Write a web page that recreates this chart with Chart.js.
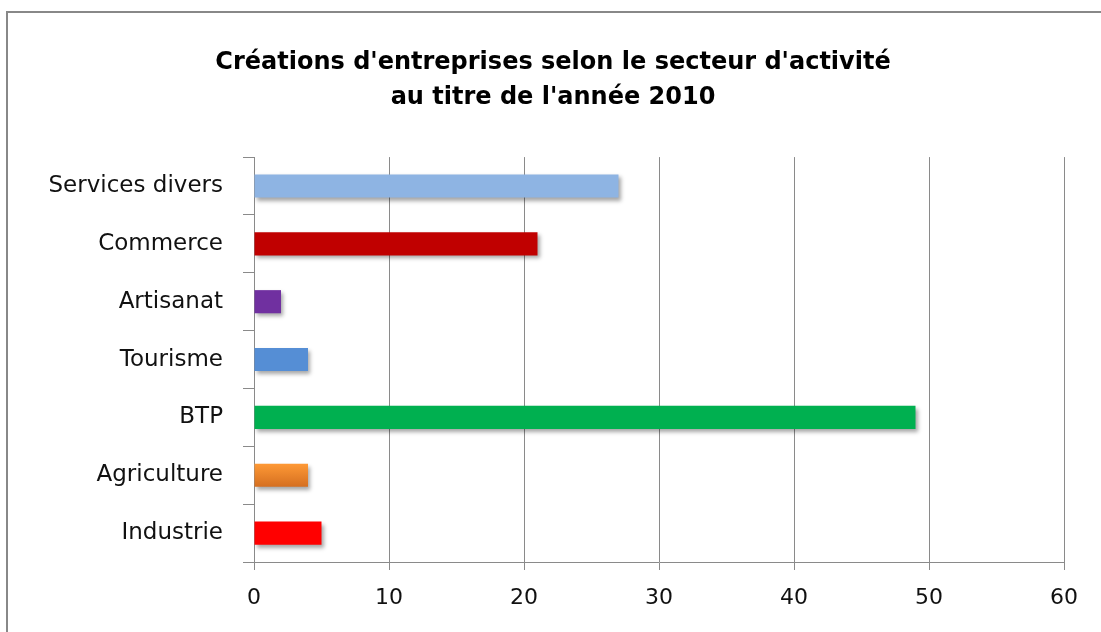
<!DOCTYPE html>
<html>
<head>
<meta charset="utf-8">
<script src="https://cdn.jsdelivr.net/npm/chart.js@4"></script>
<style>
  html, body { margin: 0; padding: 0; background: #fff; overflow: hidden; }
  #wrap { position: relative; width: 1101px; height: 632px; }
  #frame { position: absolute; left: 6px; top: 11px; width: 1120px; height: 650px;
           border: 2px solid #888; pointer-events: none; }
</style>
</head>
<body>
<div id="wrap">
  <canvas id="myChart" width="1101" height="632"></canvas>
  <div id="frame"></div>
</div>
<script>
// data
var categories = ["Services divers", "Commerce", "Artisanat", "Tourisme", "BTP", "Agriculture", "Industrie"];
var values = [27, 21, 2, 4, 49, 4, 5];
var xTicks = [0, 10, 20, 30, 40, 50, 60];
var titleLines = ["Créations d'entreprises selon le secteur d'activité", "au titre de l'année 2010"];

var barColors = ["#8EB4E3", "#C00000", "#7030A0", "#558ED5", "#00B050", "#F39237", "#FF0000"];

var gridGray = "#8a8a8a";

// orange bar has a little top-to-bottom gradient in the original
function barFill(c) {
  var base = barColors[c.dataIndex];
  var chart = c.chart;
  if (categories[c.dataIndex] != "Agriculture" || !chart.chartArea || !chart.scales.y) return base;
  var yc = chart.scales.y.getPixelForValue(c.dataIndex);
  var g = chart.ctx.createLinearGradient(0, yc - 12, 0, yc + 12);
  g.addColorStop(0, "#FF9A36");
  g.addColorStop(1, "#D46E20");
  return g;
}

// soft shadow under the bars, like the office chart
var shadowPlugin = {
  id: "barShadow",
  beforeDatasetsDraw: function (chart) {
    var c = chart.ctx;
    c.save();
    c.shadowColor = "rgba(0,0,0,0.35)";
    c.shadowBlur = 4;
    c.shadowOffsetX = 2;
    c.shadowOffsetY = 3;
  },
  afterDatasetsDraw: function (chart) {
    chart.ctx.restore();
  }
};

var ctx = document.getElementById("myChart").getContext("2d");

var chart = new Chart(ctx, {
  type: "bar",
  data: {
    labels: categories,
    datasets: [{
      data: values,
      backgroundColor: barFill,
      borderWidth: 0,
      barPercentage: 0.8,
      categoryPercentage: 0.5
    }]
  },
  options: {
    indexAxis: "y",
    responsive: false,
    animation: false,
    layout: { padding: { left: 42, right: 37, top: 0, bottom: 0 } },
    plugins: {
      legend: { display: false },
      tooltip: { enabled: false },
      title: {
        display: true,
        text: titleLines,
        color: "#000",
        font: { family: "'DejaVu Sans'", size: 24, weight: "bold", lineHeight: 1.46 },
        padding: { top: 45, bottom: 42 }
      }
    },
    scales: {
      x: {
        min: 0,
        max: 60,
        afterBuildTicks: function (scale) {
          scale.ticks = xTicks.map(function (v) { return { value: v }; });
        },
        afterFit: function (scale) { scale.height = 70; },
        grid: { color: gridGray, lineWidth: 1, tickLength: 8, drawTicks: true },
        border: { color: gridGray, width: 1 },
        ticks: { color: "#111", padding: 15, font: { family: "'DejaVu Sans'", size: 22 } }
      },
      y: {
        afterFit: function (scale) { scale.width = 212; },
        grid: { drawOnChartArea: false, color: gridGray, tickLength: 11, offset: true },
        border: { color: gridGray, width: 1 },
        ticks: { color: "#111", padding: 20, font: { family: "'DejaVu Sans'", size: 23 } }
      }
    }
  },
  plugins: [shadowPlugin]
});
</script>
</body>
</html>
